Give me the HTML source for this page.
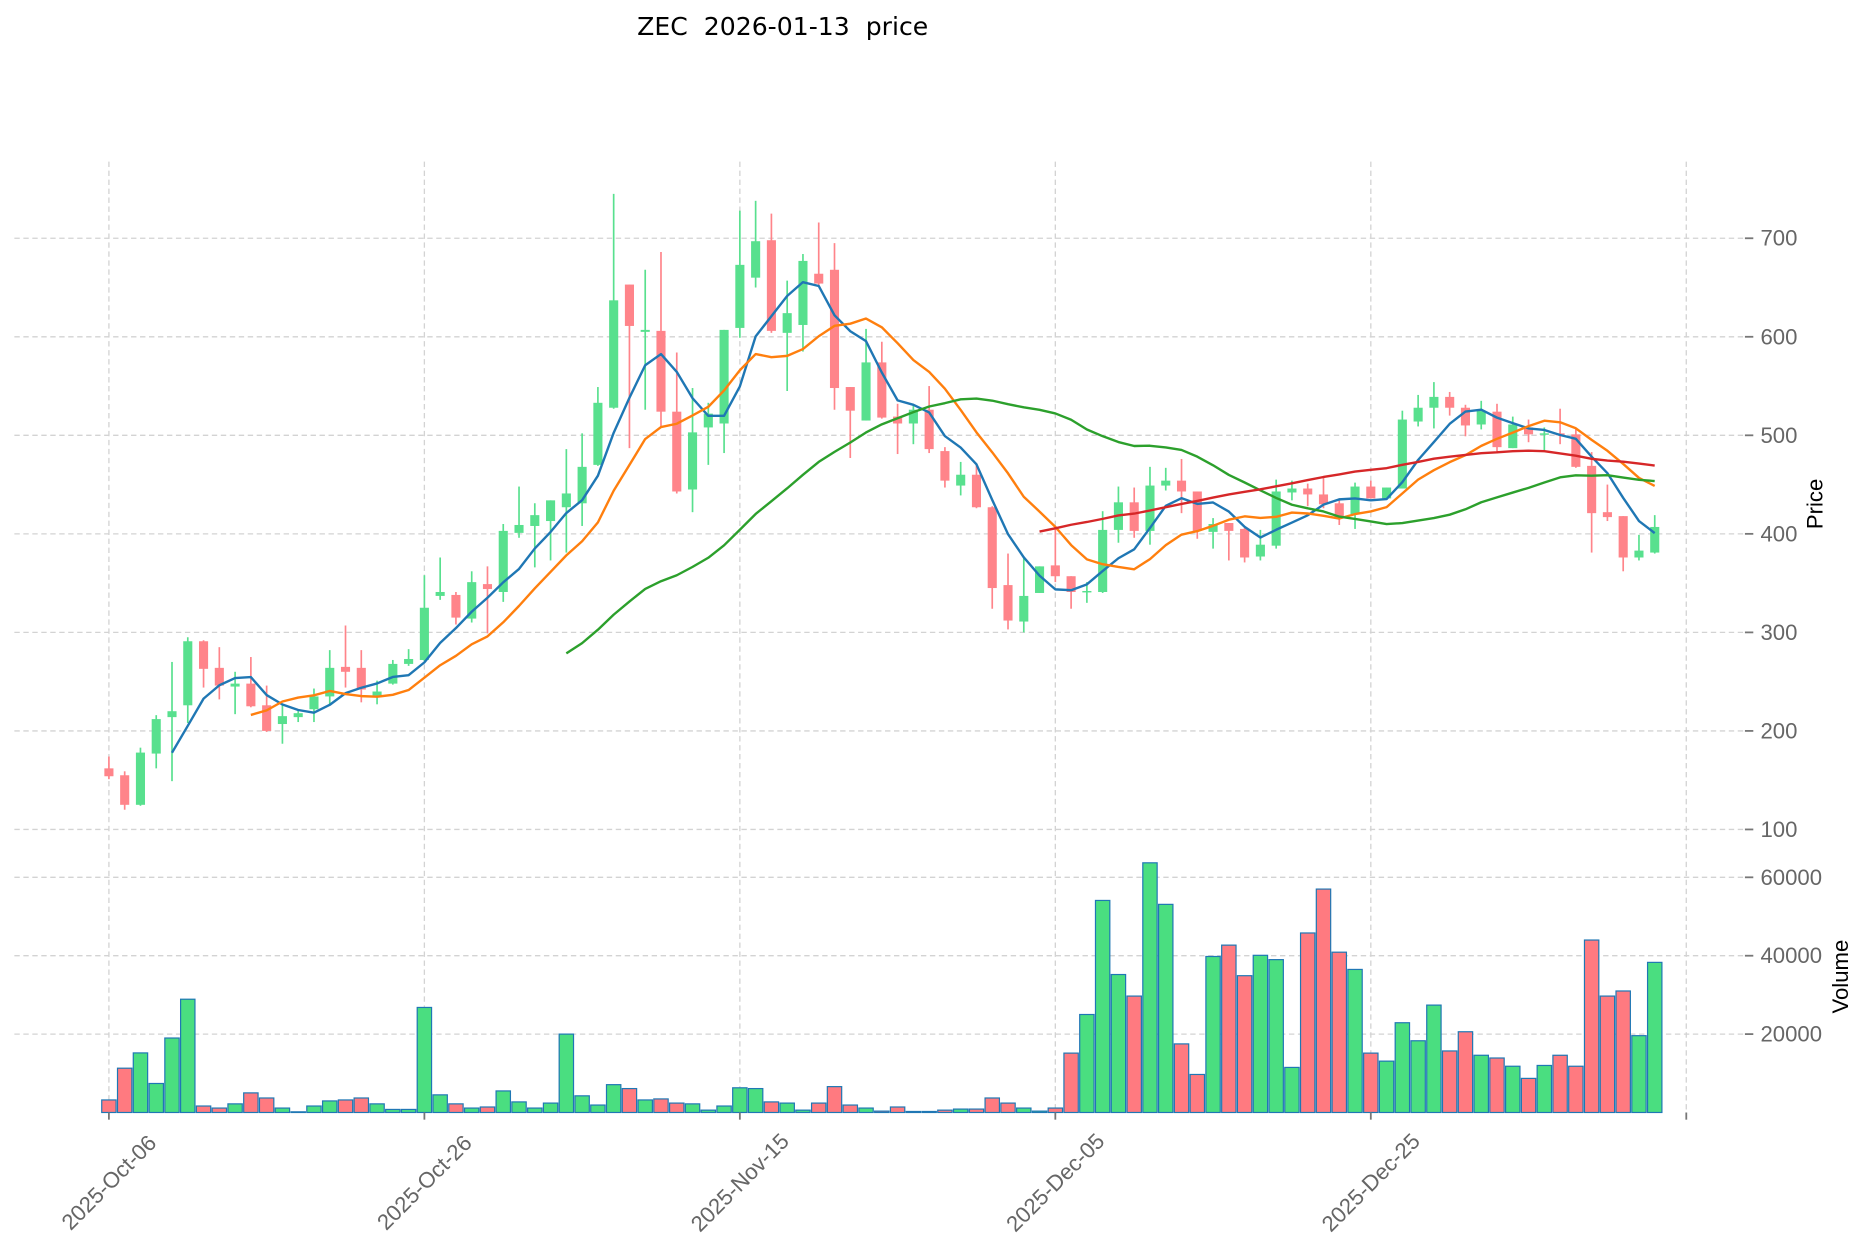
<!DOCTYPE html>
<html>
<head>
<meta charset="utf-8">
<style>
  html, body { margin: 0; padding: 0; background: #fff; }
  svg { display: block; font-family: "Liberation Sans", "DejaVu Sans", sans-serif; }
</style>
</head>
<body>
<svg id="chart" width="1867" height="1246" viewBox="0 0 1560 1041" xmlns="http://www.w3.org/2000/svg">
  <rect x="0" y="0" width="1560" height="1041" fill="#ffffff"/>
  <text x="654" y="29" text-anchor="middle" font-size="21" fill="#000" font-family="'DejaVu Sans', 'Liberation Sans', sans-serif" xml:space="preserve">ZEC  2026-01-13  price</text>
  <g id="grid"></g>
  <g id="volume"></g>
  <g id="candles"></g>
  <g id="mas"></g>
  <g id="axes"></g>
  <text transform="translate(1523,421) rotate(-90)" text-anchor="middle" font-size="18.5" fill="#000">Price</text>
  <text transform="translate(1544,816) rotate(-90)" text-anchor="middle" font-size="18.5" fill="#000">Volume</text>
</svg>
<script>
const opens  = [162,155,125,177,214,226,291,264,245,248,226,207,214,222,235,265,264,236,248,268,272,337,338,314,349,341,401,408,413,427,431,470,528,653,605,606,524,445,508,512,609,660,698,604,612,664,668,549,515,574,519,512,526,484,449,460,427,348,311,340,368,357,341,341,404,432,403,449,454,443,402,411,405,377,388,442,446,440,431,420,448,436,446,514,528,539,528,511,524,487,508,501,502,501,469,422,418,376,381];
const highs  = [174,159,183,216,270,295,292,285,260,275,246,227,222,243,282,307,282,251,272,283,358,376,341,362,367,410,448,431,434,486,502,549,745,653,668,686,584,548,533,607,728,738,725,657,684,716,695,549,608,595,532,531,550,488,473,470,428,380,375,367,408,357,351,423,448,447,468,467,476,443,416,411,406,404,455,454,451,457,436,452,454,447,525,541,554,544,531,535,532,519,516,508,527,507,483,450,418,399,419];
const lows   = [151,120,124,162,149,208,244,232,217,224,199,187,209,209,227,244,229,227,247,266,271,333,308,310,299,331,396,366,373,381,408,469,527,487,526,509,441,422,470,482,599,650,604,545,585,652,526,477,515,517,481,491,482,447,439,426,324,303,300,340,351,324,330,340,391,396,389,444,421,395,385,373,371,373,385,434,428,426,409,405,436,435,446,509,507,520,499,506,482,487,493,485,491,467,381,413,362,373,380];
const closes = [154,125,178,212,220,291,263,246,248,225,200,215,218,235,264,260,242,240,268,273,325,341,315,351,344,403,409,419,434,441,468,533,637,611,607,524,443,503,522,607,673,697,606,624,677,654,548,525,574,518,512,526,486,454,460,427,345,312,337,367,357,341,342,404,432,403,449,454,443,403,410,403,376,389,443,446,440,430,416,448,436,447,516,528,539,528,510,525,488,511,501,502,500,468,421,417,376,383,407];
const volumes = [3200,11300,15200,7400,19000,28900,1650,1130,2200,5000,3700,1130,170,1650,2950,3200,3700,2200,780,780,26800,4500,2200,1130,1400,5500,2700,1130,2400,20000,4250,1900,7100,6100,3200,3460,2400,2200,600,1650,6300,6100,2700,2400,600,2400,6600,1900,1130,350,1400,260,260,600,870,870,3700,2400,1130,350,1130,15150,25000,54100,35200,29700,63700,53100,17500,9700,39800,42700,34900,40100,39000,11500,45800,57000,40900,36500,15150,13100,22900,18300,27400,15700,20600,14600,13900,11800,8700,12000,14600,11800,44000,29700,31000,19600,38300];
const dateTicks = ["2025-Oct-06","2025-Oct-26","2025-Nov-15","2025-Dec-05","2025-Dec-25"];
const dateTickIndex = [0,20,40,60,80];
const priceTicks = [100,200,300,400,500,600,700];
const volumeTicks = [20000,40000,60000];
const maPeriods = [5,10,30,60];
const maColors = ["#1f77b4","#ff7f0e","#2ca02c","#d62728"];

const NS = "http://www.w3.org/2000/svg";
const X0 = 91, DX = 13.18;
const xOf = i => X0 + i * DX;
const yP = p => 693 - (p - 100) * 0.8233;
const yV = v => 929.5 - v * 65.5 / 20000;
const LEFT = 12, RIGHT = 1458, TOP = 135, BOTTOM = 929.5;

function mk(tag, attrs, parent) {
  const el = document.createElementNS(NS, tag);
  for (const k in attrs) el.setAttribute(k, attrs[k]);
  parent.appendChild(el);
  return el;
}
const grid = document.getElementById('grid');
const axes = document.getElementById('axes');
const gridStyle = {stroke: "#d3d3d3", "stroke-width": 1.1, "stroke-dasharray": "4.5,3", fill: "none"};

const vIdx = dateTickIndex.concat([100]);
vIdx.forEach((idx, k) => {
  const x = xOf(idx);
  const g = mk('line', Object.assign({x1: x, x2: x, y1: TOP, y2: BOTTOM}, gridStyle), grid);
  
  
  const t = mk('line', {x1: x, x2: x, y1: BOTTOM, y2: BOTTOM + 6, stroke: "#777", "stroke-width": 1.5}, axes);
  
  
  if (k < dateTicks.length) {
    const lb = mk('text', {transform: `translate(${x},${988}) rotate(-45)`, "text-anchor": "middle", "dominant-baseline": "central", "font-size": 18.5, fill: "#666"}, axes);
    lb.textContent = dateTicks[k];
    
    
  }
});
priceTicks.forEach(p => {
  const y = yP(p);
  const g = mk('line', Object.assign({x1: LEFT, x2: RIGHT, y1: y, y2: y}, gridStyle), grid);
  
  
  const t = mk('line', {x1: RIGHT, x2: RIGHT + 7, y1: y, y2: y, stroke: "#777", "stroke-width": 1.5}, axes);
  
  
  const lb = mk('text', {x: RIGHT + 13, y: y, "dominant-baseline": "central", "font-size": 18.5, fill: "#666"}, axes);
  lb.textContent = p;
  
  
});
volumeTicks.forEach(v => {
  const y = yV(v);
  const g = mk('line', Object.assign({x1: LEFT, x2: RIGHT, y1: y, y2: y}, gridStyle), grid);
  
  
  const t = mk('line', {x1: RIGHT, x2: RIGHT + 7, y1: y, y2: y, stroke: "#777", "stroke-width": 1.5}, axes);
  
  
  const lb = mk('text', {x: RIGHT + 13, y: y, "dominant-baseline": "central", "font-size": 18.5, fill: "#666"}, axes);
  lb.textContent = v;
  
  
});

const vg = document.getElementById('volume');
volumes.forEach((v, i) => {
  const up = closes[i] >= opens[i];
  const top = yV(v);
  const r = mk('rect', {x: xOf(i) - 6, y: top, width: 12, height: Math.max(0.5, BOTTOM - top), fill: up ? "#4ade80" : "#ff7a80", stroke: "#1f77b4", "stroke-width": 1}, vg);
  
  
});

const cg = document.getElementById('candles');
opens.forEach((o, i) => {
  const c = closes[i], up = c >= o;
  const col = up ? "#58e08e" : "#ff848a";
  const x = xOf(i);
  const w = mk('line', {x1: x, x2: x, y1: yP(highs[i]), y2: yP(lows[i]), stroke: col, "stroke-width": 1.4}, cg);
  
  
  const yt = yP(Math.max(o, c)), yb = yP(Math.min(o, c));
  const b = mk('rect', {x: x - 3.8, y: yt, width: 7.6, height: Math.max(1.2, yb - yt), fill: col}, cg);
  
  
});

const mg = document.getElementById('mas');
maPeriods.forEach((n, k) => {
  const pts = [];
  for (let i = n - 1; i < closes.length; i++) {
    let s = 0;
    for (let j = i - n + 1; j <= i; j++) s += closes[j];
    pts.push(xOf(i).toFixed(1) + "," + yP(s / n).toFixed(1));
  }
  const pl = mk('polyline', {points: pts.join(" "), fill: "none", stroke: maColors[k], "stroke-width": 2, "stroke-linejoin": "round"}, mg);
  
  
});
</script>
</body>
</html>
